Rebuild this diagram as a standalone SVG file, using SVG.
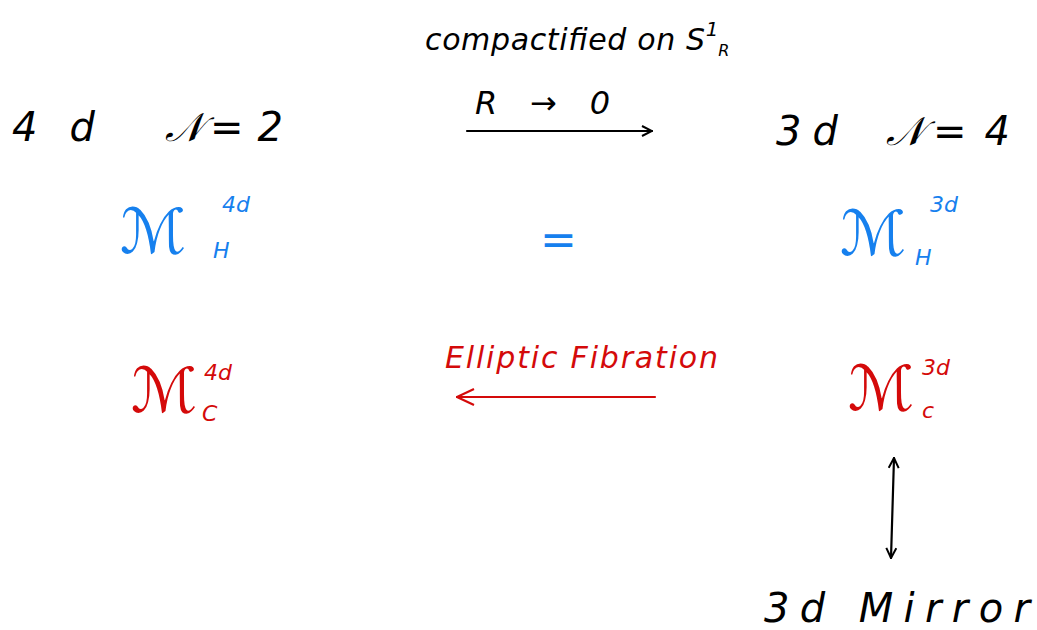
<svg xmlns="http://www.w3.org/2000/svg" width="1037" height="630" viewBox="0 0 1037 630">
<style>
text{font-family:"DejaVu Sans","Liberation Sans",sans-serif;}
.k{fill:#000;}
.b{fill:#1680ee;}
.r{fill:#d40a0a;}
.big{font-size:40px;font-style:italic;}
.M{font-size:62px;font-style:italic;}
.sm{font-size:22px;font-style:italic;}
.ln{fill:none;stroke-width:2.2;stroke-linecap:round;stroke-linejoin:round;}
</style>
<defs>
<marker id="ak" viewBox="0 0 12 12" refX="11" refY="6" markerWidth="12" markerHeight="12" markerUnits="userSpaceOnUse" orient="auto-start-reverse">
<path d="M1 1 L11 6 L1 11" fill="none" stroke="#000" stroke-width="2"/>
</marker>
<marker id="ar" viewBox="0 0 20 20" refX="19" refY="10" markerWidth="20" markerHeight="20" markerUnits="userSpaceOnUse" orient="auto-start-reverse">
<path d="M2 2 L19 10 L2 18" fill="none" stroke="#d40a0a" stroke-width="2.2"/>
</marker>
</defs>
<rect width="1037" height="630" fill="#fff"/>
<g id="n4d">
<text class="k big" x="12" y="141" textLength="83" lengthAdjust="spacing">4d</text>
<text class="k big" x="165" y="141">𝒩</text>
<text class="k big" x="210" y="141" textLength="73" lengthAdjust="spacing">=2</text>
</g>
<g id="n3d">
<text class="k big" x="776" y="145" textLength="62" lengthAdjust="spacing">3d</text>
<text class="k big" x="886" y="145">𝒩</text>
<text class="k big" x="933" y="145" textLength="77" lengthAdjust="spacing">=4</text>
</g>
<g id="mh4d">
<text class="b M" x="120" y="253">ℳ</text>
<text class="b sm" x="222" y="212">4d</text>
<text class="b sm" x="213" y="258">H</text>
</g>
<g id="equals">
<text class="b" x="540" y="255" font-size="44">=</text>
</g>
<g id="mh3d">
<text class="b M" x="840" y="255">ℳ</text>
<text class="b sm" x="930" y="212">3d</text>
<text class="b sm" x="915" y="265">H</text>
</g>
<g id="mc4d">
<text class="r M" x="131" y="412">ℳ</text>
<text class="r sm" x="204" y="380">4d</text>
<text class="r sm" x="202" y="421">C</text>
</g>
<g id="mc3d">
<text class="r M" x="848" y="410">ℳ</text>
<text class="r sm" x="922" y="375">3d</text>
<text class="r sm" x="922" y="418">c</text>
</g>
<g id="mirror">
<text class="k big" x="764" y="622" textLength="266" lengthAdjust="spacing">3d  Mirror</text>
</g>
<g id="connectors">
<text class="k" x="425" y="50" font-size="30" font-style="italic"><tspan textLength="280" lengthAdjust="spacing">compactified on S</tspan><tspan font-size="20" dy="-14">1</tspan><tspan font-size="16" dy="20">R</tspan></text>
<text class="k" x="475" y="114" font-size="32" font-style="italic" textLength="135" lengthAdjust="spacing">R → 0</text>
<line class="ln" x1="467" y1="131" x2="652" y2="131" stroke="#000" marker-end="url(#ak)"/>
<text class="r" x="445" y="368" font-size="30" font-style="italic" textLength="273" lengthAdjust="spacing">Elliptic Fibration</text>
<line class="ln" x1="655" y1="397" x2="457" y2="397" stroke="#d40a0a" marker-end="url(#ar)"/>
<line class="ln" x1="894" y1="458" x2="891" y2="558" stroke="#000" marker-start="url(#ak)" marker-end="url(#ak)"/>
</g>
</svg>
